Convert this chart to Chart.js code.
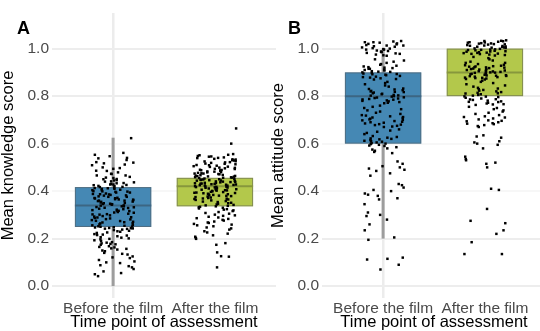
<!DOCTYPE html>
<html>
<head>
<meta charset="utf-8">
<script src="https://cdn.jsdelivr.net/npm/chart.js@4.4.1/dist/chart.umd.min.js"></script>
<style>
  html, body { margin: 0; padding: 0; background: #fff; overflow: hidden; width: 540px; height: 331px; position: relative; }
  canvas { position: absolute; top: 0; }
  .tag { position: absolute; font: bold 18px "Liberation Sans", Arial, sans-serif; color: #000; line-height: 18px; }
</style>
</head>
<body>
<canvas id="panelA" width="280" height="331" style="left:0px"></canvas>
<canvas id="panelB" width="280" height="331" style="left:270px"></canvas>
<div class="tag" style="left:17px;top:19px">A</div>
<div class="tag" style="left:288px;top:19px">B</div>
<script>
// Category labels and axis ticks
const timeLabels = ['Before the film', 'After the film'];
const yTicks = [0, 0.2, 0.4, 0.6, 0.8, 1.0];

// Mean knowledge score per respondent
const knowledgeBefore = [
  0.623, 0.561, 0.553, 0.547, 0.540, 0.538, 0.531, 0.522, 0.520, 0.517, 0.512, 0.509, 0.500, 0.497, 0.494, 0.486, 0.485, 0.479, 0.473, 0.472,
  0.466, 0.466, 0.460, 0.457, 0.455, 0.451, 0.450, 0.446, 0.445, 0.441, 0.440, 0.437, 0.434, 0.433, 0.430, 0.428, 0.426, 0.425, 0.422, 0.421,
  0.418, 0.417, 0.414, 0.413, 0.410, 0.409, 0.406, 0.404, 0.404, 0.400, 0.399, 0.397, 0.394, 0.394, 0.390, 0.388, 0.387, 0.384, 0.382, 0.381,
  0.378, 0.376, 0.376, 0.372, 0.370, 0.369, 0.366, 0.365, 0.362, 0.360, 0.360, 0.356, 0.355, 0.352, 0.350, 0.349, 0.346, 0.345, 0.343, 0.340,
  0.339, 0.336, 0.336, 0.332, 0.330, 0.329, 0.326, 0.324, 0.322, 0.320, 0.317, 0.316, 0.312, 0.310, 0.309, 0.305, 0.303, 0.302, 0.298, 0.295,
  0.293, 0.290, 0.289, 0.285, 0.282, 0.281, 0.278, 0.275, 0.274, 0.271, 0.268, 0.265, 0.264, 0.260, 0.258, 0.256, 0.254, 0.251, 0.250, 0.248,
  0.247, 0.245, 0.244, 0.242, 0.241, 0.238, 0.236, 0.233, 0.229, 0.226, 0.224, 0.219, 0.217, 0.213, 0.210, 0.206, 0.204, 0.199, 0.197, 0.193,
  0.190, 0.185, 0.183, 0.180, 0.176, 0.174, 0.168, 0.165, 0.163, 0.157, 0.154, 0.150, 0.147, 0.140, 0.136, 0.133, 0.125, 0.121, 0.118, 0.110,
  0.104, 0.100, 0.097, 0.088, 0.084, 0.079, 0.072, 0.062, 0.055, 0.050, 0.042,
  0.412, 0.398, 0.386, 0.371, 0.358, 0.347, 0.333, 0.318, 0.301, 0.287, 0.269, 0.252, 0.243, 0.231, 0.215, 0.201, 0.178, 0.159, 0.428, 0.364
];
const knowledgeAfter = [
  0.664, 0.600, 0.556, 0.553, 0.551, 0.548, 0.546, 0.545, 0.542, 0.540, 0.539, 0.536, 0.534, 0.533, 0.530, 0.529, 0.526, 0.525, 0.522, 0.521,
  0.519, 0.516, 0.515, 0.513, 0.510, 0.509, 0.507, 0.505, 0.503, 0.502, 0.499, 0.498, 0.496, 0.494, 0.493, 0.490, 0.489, 0.487, 0.486, 0.483,
  0.482, 0.480, 0.479, 0.477, 0.475, 0.474, 0.472, 0.471, 0.468, 0.467, 0.465, 0.464, 0.462, 0.461, 0.459, 0.458, 0.456, 0.455, 0.453, 0.452,
  0.450, 0.449, 0.447, 0.446, 0.444, 0.443, 0.441, 0.440, 0.438, 0.437, 0.435, 0.434, 0.432, 0.431, 0.430, 0.428, 0.427, 0.425, 0.424, 0.423,
  0.421, 0.420, 0.418, 0.417, 0.416, 0.414, 0.413, 0.411, 0.410, 0.408, 0.407, 0.405, 0.404, 0.402, 0.401, 0.399, 0.397, 0.396, 0.394, 0.392,
  0.391, 0.389, 0.387, 0.386, 0.384, 0.382, 0.380, 0.379, 0.377, 0.375, 0.373, 0.371, 0.369, 0.367, 0.365, 0.363, 0.361, 0.358, 0.356, 0.354,
  0.351, 0.349, 0.347, 0.344, 0.342, 0.340, 0.338, 0.336, 0.334, 0.332, 0.330, 0.327, 0.324, 0.322, 0.319, 0.316, 0.312, 0.308, 0.305, 0.301,
  0.298, 0.296, 0.292, 0.289, 0.286, 0.283, 0.279, 0.276, 0.272, 0.268, 0.266, 0.262, 0.259, 0.256, 0.252, 0.247, 0.243, 0.238, 0.231, 0.226,
  0.221, 0.214, 0.208, 0.203, 0.199, 0.181, 0.174, 0.142, 0.126, 0.124, 0.079,
  0.448, 0.439, 0.426, 0.419, 0.406, 0.393, 0.457, 0.433, 0.415, 0.463, 0.474, 0.488, 0.429, 0.412, 0.381, 0.368, 0.403, 0.445
];

// Mean attitude score per respondent
const attitudeBefore = [
  1.032, 1.030, 1.027, 1.025, 1.022, 1.020, 1.018, 1.015, 1.013, 1.010, 1.008, 1.005, 1.002, 1.000, 0.998, 0.996, 0.992, 0.990, 0.987, 0.985,
  0.982, 0.980, 0.978, 0.975, 0.972, 0.970, 1.027, 1.013, 0.996, 0.987, 0.955, 0.950, 0.945, 0.940, 0.935,
  0.932, 0.928, 0.925, 0.922, 0.920, 0.918, 0.915, 0.912, 0.910, 0.908, 0.905, 0.902, 0.900, 0.898, 0.895, 0.892, 0.890, 0.888, 0.885, 0.882,
  0.880, 0.878, 0.875, 0.872, 0.870, 0.915, 0.903, 0.893, 0.860, 0.855, 0.850, 0.845, 0.840,
  0.832, 0.830, 0.828, 0.825, 0.822, 0.820, 0.818, 0.815, 0.812, 0.810, 0.808, 0.805, 0.802, 0.800, 0.798, 0.795, 0.792, 0.790, 0.788, 0.785,
  0.782, 0.780, 0.778, 0.775, 0.772, 0.770, 0.817, 0.803, 0.794, 0.786, 0.760, 0.755, 0.750, 0.745, 0.740,
  0.735, 0.730, 0.725, 0.720, 0.718, 0.715, 0.712, 0.710, 0.708, 0.705, 0.702, 0.700, 0.698, 0.695, 0.692, 0.690, 0.688, 0.685, 0.682, 0.680,
  0.678, 0.675, 0.672, 0.670, 0.660, 0.655, 0.650, 0.645, 0.640,
  0.632, 0.628, 0.625, 0.622, 0.620, 0.618, 0.615, 0.612, 0.610, 0.608, 0.605, 0.602, 0.600, 0.598, 0.595, 0.592, 0.590, 0.585, 0.580, 0.575,
  0.570, 0.565, 0.560, 0.525, 0.515, 0.505, 0.500, 0.495, 0.490, 0.485, 0.475, 0.465, 0.430, 0.425, 0.415, 0.405, 0.400, 0.390, 0.385, 0.380,
  0.370, 0.365, 0.345, 0.310, 0.300, 0.295, 0.280, 0.260, 0.235, 0.205, 0.195, 0.120, 0.115, 0.112, 0.090, 0.070
];
const attitudeAfter = [
  1.035, 1.033, 1.031, 1.029, 1.027, 1.025, 1.023, 1.021, 1.019, 1.017, 1.015, 1.013, 1.011, 1.009, 1.007, 1.005, 1.003, 1.001, 0.999, 0.997,
  0.995, 0.993, 0.991, 0.989, 0.987, 0.985, 0.983, 0.981, 0.979, 0.977, 0.975, 0.973, 0.971, 1.026, 1.018, 1.012, 1.004, 0.996, 0.988, 0.982,
  1.032, 1.022, 1.008, 0.994, 0.978, 0.965, 0.960, 0.955, 0.950, 0.945, 0.940, 0.940, 0.935,
  0.932, 0.930, 0.928, 0.926, 0.924, 0.922, 0.920, 0.918, 0.916, 0.914, 0.912, 0.910, 0.908, 0.906, 0.904, 0.902, 0.900, 0.898, 0.896, 0.894,
  0.892, 0.890, 0.888, 0.886, 0.884, 0.882, 0.880, 0.878, 0.876, 0.874, 0.872, 0.870, 0.925, 0.915, 0.905, 0.895, 0.885, 0.921, 0.909, 0.899,
  0.887, 0.877, 0.865, 0.860, 0.855, 0.850, 0.845, 0.840,
  0.835, 0.832, 0.829, 0.826, 0.823, 0.820, 0.817, 0.814, 0.811, 0.808, 0.805, 0.802, 0.799, 0.796, 0.793, 0.790, 0.787, 0.784, 0.781, 0.778,
  0.775, 0.772, 0.769, 0.766, 0.763, 0.812, 0.798, 0.786, 0.776, 0.765, 0.755, 0.750, 0.745, 0.740,
  0.735, 0.730, 0.725, 0.720, 0.715, 0.710, 0.706, 0.702, 0.698, 0.694, 0.690, 0.686, 0.682, 0.678, 0.674, 0.670, 0.712, 0.696, 0.684,
  0.635, 0.630, 0.625, 0.610, 0.605, 0.600, 0.595, 0.580, 0.545, 0.535, 0.530, 0.520, 0.515, 0.500, 0.410, 0.405, 0.325, 0.275, 0.265, 0.235,
  0.220, 0.185, 0.135, 0.135
];

// Box summaries: [Before, After]; null = no whisker drawn
const knowledgeQ1 = [0.249, 0.336];
const knowledgeMedian = [0.339, 0.421];
const knowledgeQ3 = [0.417, 0.456];
const knowledgeLow = [0.0, null];
const knowledgeHigh = [0.625, null];

const attitudeQ1 = [0.60, 0.80];
const attitudeMedian = [0.80, 0.90];
const attitudeQ3 = [0.90, 1.00];
const attitudeLow = [0.20, null];
const attitudeHigh = [1.00, null];

const boxColors = ['#4588b4', '#b3c84b'];
const medianColors = ['#3c6683', '#87973c'];

// Draws whiskers, boxes and medians beneath the jittered points
const boxLayer = {
  id: 'boxLayer',
  beforeDatasetsDraw(chart, args, opts) {
    const { ctx } = chart;
    const x = chart.scales.x, y = chart.scales.y;
    const half = 0.375;
    ctx.save();
    opts.q1.forEach((q1, g) => {
      const c = g + 1;
      if (opts.low[g] !== null) {
        ctx.strokeStyle = '#9d9d9d';
        ctx.lineWidth = 3;
        ctx.beginPath();
        ctx.moveTo(x.getPixelForValue(c), y.getPixelForValue(opts.low[g]));
        ctx.lineTo(x.getPixelForValue(c), y.getPixelForValue(opts.high[g]));
        ctx.stroke();
      }
      const l = x.getPixelForValue(c - half), r = x.getPixelForValue(c + half);
      const top = y.getPixelForValue(opts.q3[g]), bot = y.getPixelForValue(q1);
      ctx.fillStyle = boxColors[g];
      ctx.fillRect(l, top, r - l, bot - top);
      ctx.strokeStyle = 'rgba(90,90,90,0.55)';
      ctx.lineWidth = 1;
      ctx.strokeRect(l + 0.5, top + 0.5, r - l - 1, bot - top - 1);
      const m = y.getPixelForValue(opts.median[g]);
      ctx.strokeStyle = medianColors[g];
      ctx.lineWidth = 2;
      ctx.beginPath();
      ctx.moveTo(l, m);
      ctx.lineTo(r, m);
      ctx.stroke();
    });
    ctx.restore();
  }
};

// Deterministic horizontal jitter (hash of the point index) within ±0.21 of the category
function spread(i) {
  const h = Math.sin(i * 78.233 + 12.9898) * 43758.5453;
  return (h - Math.floor(h) - 0.5) * 0.42;
}

function makePanel(id, yTitle, groups, q1, median, q3, low, high) {
  const datasets = groups.map((vals, g) => ({
    data: vals.map((v, i) => ({ x: g + 1 + spread(i + g * 311), y: v })),
    pointStyle: 'rect',
    pointRadius: 1.75,
    pointBorderWidth: 0,
    pointBackgroundColor: '#000',
    showLine: false
  }));
  return new Chart(document.getElementById(id), {
    type: 'scatter',
    data: { datasets },
    plugins: [boxLayer],
    options: {
      responsive: false,
      animation: false,
      devicePixelRatio: 1,
      layout: { padding: { top: 13, right: 2, left: 0, bottom: 0 } },
      plugins: {
        legend: { display: false },
        tooltip: { enabled: false },
        boxLayer: { q1, median, q3, low, high }
      },
      scales: {
        x: {
          type: 'linear',
          min: 0.4,
          max: 2.6,
          afterBuildTicks: s => { s.ticks = [{ value: 1 }, { value: 2 }]; },
          afterFit: s => { s.height = 33; },
          border: { display: false },
          grid: {
            drawTicks: false,
            lineWidth: 2.5,
            color: c => (c.tick && c.tick.value === 1 ? '#ececec' : 'rgba(0,0,0,0)')
          },
          ticks: {
            autoSkip: false,
            maxRotation: 0,
            padding: 1,
            color: '#4a4a4a',
            font: { family: '"Liberation Sans", Arial, sans-serif', size: 15.5 },
            callback: v => timeLabels[Math.round(v) - 1]
          },
          title: {
            display: true,
            text: 'Time point of assessment',
            color: '#000',
            padding: { top: 0, bottom: 0 },
            font: { family: '"Liberation Sans", Arial, sans-serif', size: 16.5, lineHeight: 1 }
          }
        },
        y: {
          min: -0.05,
          max: 1.15,
          afterBuildTicks: s => { s.ticks = yTicks.map(v => ({ value: v })); },
          afterFit: s => { s.width = 52; },
          border: { display: false },
          grid: {
            drawTicks: false,
            lineWidth: 2,
            color: c => (c.tick && (Math.abs(c.tick.value - 0.4) < 1e-6 || Math.abs(c.tick.value - 0.6) < 1e-6) ? '#f7f7f7' : '#ededed')
          },
          ticks: {
            padding: 3,
            color: '#4a4a4a',
            font: { family: '"Liberation Sans", Arial, sans-serif', size: 15.5 },
            callback: v => v.toFixed(1)
          },
          title: {
            display: true,
            text: yTitle,
            color: '#000',
            padding: { top: 0, bottom: 0 },
            font: { family: '"Liberation Sans", Arial, sans-serif', size: 16.5, lineHeight: 1 }
          }
        }
      }
    }
  });
}

makePanel('panelA', 'Mean knowledge score', [knowledgeBefore, knowledgeAfter],
  knowledgeQ1, knowledgeMedian, knowledgeQ3, knowledgeLow, knowledgeHigh);
makePanel('panelB', 'Mean attitude score', [attitudeBefore, attitudeAfter],
  attitudeQ1, attitudeMedian, attitudeQ3, attitudeLow, attitudeHigh);
</script>
</body>
</html>
